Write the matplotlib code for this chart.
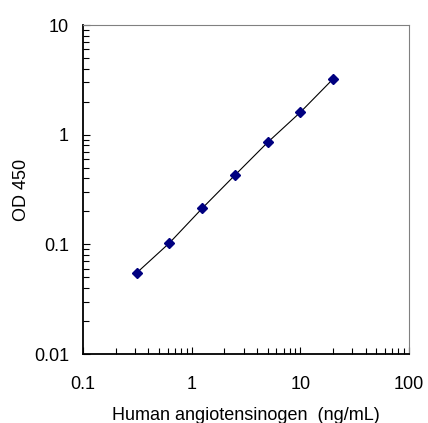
import matplotlib

matplotlib.use("Agg")
import matplotlib.pyplot as plt
from matplotlib.ticker import LogLocator, FixedLocator, FixedFormatter, NullFormatter

plt.rcParams["font.family"] = ["Liberation Sans", "DejaVu Sans"]

conc = [0.3125, 0.625, 1.25, 2.5, 5, 10, 20]
od = [0.055, 0.103, 0.213, 0.427, 0.85, 1.6, 3.22]

x_ticks = [0.1, 1, 10, 100]
x_labels = ["0.1", "1", "10", "100"]
y_ticks = [0.01, 0.1, 1, 10]
y_labels = ["0.01", "0.1", "1", "10"]

fig = plt.figure(figsize=(4.28, 4.23), dpi=100)
ax = fig.add_axes([83 / 428, 1 - 354 / 423, 326 / 428, 329 / 423])

ax.plot(conc, od, color="black", linewidth=0.8, zorder=2)
ax.plot(conc, od, linestyle="none", marker="D", markersize=5,
        color="#000080", zorder=3)

ax.set_xscale("log")
ax.set_yscale("log")
ax.set_xlim(0.1, 100)
ax.set_ylim(0.01, 10)

ax.xaxis.set_major_locator(FixedLocator(x_ticks))
ax.xaxis.set_major_formatter(FixedFormatter(x_labels))
ax.yaxis.set_major_locator(FixedLocator(y_ticks))
ax.yaxis.set_major_formatter(FixedFormatter(y_labels))
ax.xaxis.set_minor_locator(LogLocator(base=10, subs=range(2, 10)))
ax.yaxis.set_minor_locator(LogLocator(base=10, subs=range(2, 10)))
ax.xaxis.set_minor_formatter(NullFormatter())
ax.yaxis.set_minor_formatter(NullFormatter())

ax.tick_params(which="both", direction="in", top=False, right=False,
               labelsize=13)
ax.tick_params(axis="x", which="major", pad=16)
ax.tick_params(axis="y", which="major", pad=10)
ax.tick_params(which="major", length=5, width=0.8)
ax.tick_params(which="minor", length=4, width=0.8)

for side in ["top", "right"]:
    ax.spines[side].set_color("#808080")
    ax.spines[side].set_linewidth(0.8)
for side in ["left", "bottom"]:
    ax.spines[side].set_color("black")
    ax.spines[side].set_linewidth(1.3)

ax.set_xlabel("Human angiotensinogen  (ng/mL)", fontsize=13, labelpad=10)
ax.set_ylabel("OD 450", fontsize=13, labelpad=3)

fig.savefig("out.png", dpi=100)
